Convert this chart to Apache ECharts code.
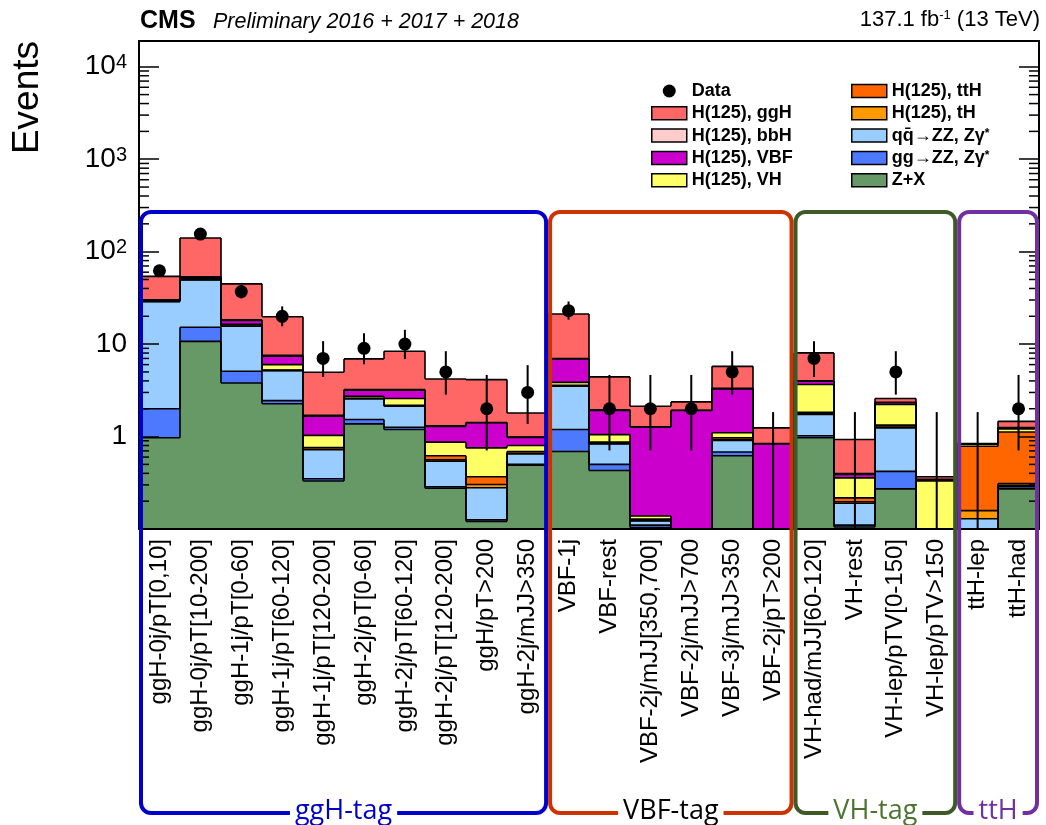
<!DOCTYPE html>
<html>
<head>
<meta charset="utf-8">
<script src="https://cdn.jsdelivr.net/npm/echarts@6/dist/echarts.min.js"></script>
<style>
html, body { margin: 0; padding: 0; background: #ffffff; }
#main { width: 1046px; height: 825px; }
</style>
</head>
<body>
<div id="main"></div>
<script>
// Event categories (one bin each)
const categories = [
  'ggH-0j/pT[0,10]', 'ggH-0j/pT[10-200]', 'ggH-1j/pT[0-60]', 'ggH-1j/pT[60-120]',
  'ggH-1j/pT[120-200]', 'ggH-2j/pT[0-60]', 'ggH-2j/pT[60-120]', 'ggH-2j/pT[120-200]',
  'ggH/pT>200', 'ggH-2j/mJJ>350',
  'VBF-1j', 'VBF-rest', 'VBF-2j/mJJ[350,700]', 'VBF-2j/mJJ>700', 'VBF-3j/mJJ>350', 'VBF-2j/pT>200',
  'VH-had/mJJ[60-120]', 'VH-rest', 'VH-lep/pTV[0-150]', 'VH-lep/pTV>150',
  'ttH-lep', 'ttH-had'
];

// Expected yields per category, one array per process (stacked bottom to top)
const zx   = [0.97, 10.7, 3.8, 2.26, 0.33, 1.37, 1.19, 0.276, 0.121, 0.49, 0.69, 0.43, 0.104, 0.05, 0.62, 0.03, 0.97, 0.105, 0.272, 0.01, 0.003, 0.272];
const ggzz = [1.03, 4.5, 1.28, 0.19, 0.02, 0.16, 0.07, 0.01, 0.005, 0.01, 0.5, 0.07, 0.006, 0.005, 0.06, 0.002, 0.05, 0.005, 0.148, 0.002, 0.002, 0.014];
const qqzz = [27, 34.6, 10.5, 2.72, 0.37, 1.03, 0.87, 0.254, 0.153, 0.15, 2.31, 0.33, 0.012, 0.02, 0.23, 0.02, 0.71, 0.08, 0.82, 0.01, 0.124, 0.01];
const th   = [0.005, 0.02, 0.02, 0.02, 0.01, 0.01, 0.01, 0.02, 0.024, 0.01, 0.02, 0.01, 0.002, 0.002, 0.02, 0.002, 0.03, 0.007, 0.03, 0.003, 0.029, 0.014];
const tth  = [0.01, 0.05, 0.08, 0.05, 0.03, 0.03, 0.04, 0.06, 0.064, 0.03, 0.06, 0.03, 0.004, 0.005, 0.04, 0.006, 0.07, 0.02, 0.06, 0.01, 0.627, 0.81];
const vh   = [0.35, 1.2, 0.7, 0.76, 0.27, 0.13, 0.4, 0.25, 0.388, 0.11, 0.28, 0.18, 0.01, 0.015, 0.13, 0.03, 1.82, 0.14, 0.89, 0.295, 0.04, 0.09];
const vbf  = [0.6, 1.5, 1.6, 1.4, 0.63, 0.44, 0.59, 0.42, 0.655, 0.18, 3.06, 0.87, 1.13, 1.82, 2.18, 0.74, 0.31, 0.031, 0.1, 0.01, 0.005, 0.03];
const bbh  = [0.25, 0.9, 0.35, 0.15, 0.04, 0.06, 0.05, 0.02, 0.01, 0.01, 0.08, 0.03, 0.005, 0.005, 0.04, 0.01, 0.04, 0.01, 0.03, 0.005, 0.002, 0.01];
const ggh  = [23.8, 87, 26.5, 12.25, 3.26, 3.69, 5.14, 2.89, 2.71, 0.81, 14.2, 2.47, 0.857, 0.45, 2.43, 0.40, 4.03, 0.532, 0.23, 0.022, 0.01, 0.21];

// Observed events and their 68% Poisson intervals
const observed = [62, 155, 37, 20, 7, 9, 10, 5, 2, 3, 23, 2, 2, 2, 5, 0, 7, 0, 5, 0, 0, 2];
const obsLow   = [54.3, 142.8, 31.2, 15.6, 4.42, 6.06, 6.89, 2.84, 0.708, 1.37, 18.4, 0.708, 0.708, 0.708, 2.84, 0, 4.42, 0, 2.84, 0, 0, 0.708];
const obsHigh  = [70.9, 168.0, 43.6, 25.6, 10.77, 13.11, 14.27, 8.38, 4.64, 5.92, 28.9, 4.64, 4.64, 4.64, 8.38, 1.84, 10.77, 1.84, 8.38, 1.84, 1.84, 4.64];

// Y axis range and labelled decades
const Y_MIN = 0.1;
const Y_MAX = 19000;
const decadeLabels = { 0: '1', 1: '10', 2: '10{sup|2}', 3: '10{sup|3}', 4: '10{sup|4}' };

// Category groups shown as brackets under the axis
const tagGroups = [
  { name: 'ggH-tag', first: 0,  last: 9,  line: '#0000cc', text: '#0000cc' },
  { name: 'VBF-tag', first: 10, last: 15, line: '#cc3300', text: '#000000' },
  { name: 'VH-tag',  first: 16, last: 19, line: '#3d5a27', text: '#4a7530' },
  { name: 'ttH',     first: 20, last: 21, line: '#7030a0', text: '#7030a0' }
];

const FONT = "'Liberation Sans', Arial, Helvetica, sans-serif";

const layers = [
  { name: 'Z+X',                      values: zx,   color: '#669966' },
  { name: 'gg\u2192ZZ, Z\u03b3*',     values: ggzz, color: '#4d79ff' },
  { name: 'qq\u0304\u2192ZZ, Z\u03b3*', values: qqzz, color: '#99ccff' },
  { name: 'H(125), tH',               values: th,   color: '#ff9900' },
  { name: 'H(125), ttH',              values: tth,  color: '#ff6600' },
  { name: 'H(125), VH',               values: vh,   color: '#ffff66' },
  { name: 'H(125), VBF',              values: vbf,  color: '#cc00cc' },
  { name: 'H(125), bbH',              values: bbh,  color: '#ffcccc' },
  { name: 'H(125), ggH',              values: ggh,  color: '#ff6666' }
];

// cumulative stack tops
const cum = [];
layers.forEach((l, k) => {
  cum.push(l.values.map((v, i) => v + (k > 0 ? cum[k - 1][i] : 0)));
});

const clampY = v => Math.max(v, Y_MIN);

function fillRenderer(color) {
  return function (params, api) {
    const i = api.value(0);
    const lo = api.value(1);
    const hi = api.value(2);
    if (hi <= Y_MIN) return null;
    const top = api.coord([i, hi]);
    const bot = api.coord([i, clampY(lo)]);
    const w = api.size([1, 0])[0];
    const x0 = Math.round(top[0] - w / 2);
    const x1 = Math.round(top[0] + w / 2);
    return {
      type: 'rect',
      shape: { x: x0, y: top[1], width: x1 - x0, height: bot[1] - top[1] },
      style: { fill: color, stroke: null }
    };
  };
}

const fillSeries = layers.map((l, k) => ({
  type: 'custom',
  name: l.name,
  coordinateSystem: 'cartesian2d',
  clip: true,
  z: 2,
  itemStyle: { color: l.color },
  encode: { x: 0, y: 2 },
  data: categories.map((c, i) => [i, k > 0 ? cum[k - 1][i] : 0, cum[k][i]]),
  renderItem: fillRenderer(l.color)
}));

// step outlines of every cumulative histogram
const outlineSeries = {
  type: 'custom',
  name: 'outline',
  coordinateSystem: 'cartesian2d',
  clip: true,
  z: 3,
  silent: true,
  encode: { x: 0, y: 1 },
  data: categories.map((c, i) => [i, cum[cum.length - 1][i]]),
  renderItem: function (params, api) {
    const i = api.value(0);
    const w = api.size([1, 0])[0];
    const children = [];
    const lineStyle = { stroke: '#000', lineWidth: 1.6 };
    const bottom = api.coord([i, Y_MIN])[1];
    for (let k = 0; k < layers.length; k++) {
      const v = cum[k][i];
      const p = api.coord([i, clampY(v)]);
      const x0 = Math.round(p[0] - w / 2);
      const x1 = Math.round(p[0] + w / 2);
      if (v > Y_MIN) {
        children.push({ type: 'line', shape: { x1: x0, y1: p[1], x2: x1, y2: p[1] }, style: lineStyle });
      }
      const prevY = i > 0 ? api.coord([i, clampY(cum[k][i - 1])])[1] : bottom;
      children.push({ type: 'line', shape: { x1: x0, y1: prevY, x2: x0, y2: p[1] }, style: lineStyle });
      if (i === categories.length - 1) {
        children.push({ type: 'line', shape: { x1: x1, y1: p[1], x2: x1, y2: bottom }, style: lineStyle });
      }
    }
    return { type: 'group', children: children };
  }
};

const errorSeries = {
  type: 'custom',
  name: 'Data errors',
  coordinateSystem: 'cartesian2d',
  clip: true,
  z: 4,
  silent: true,
  encode: { x: 0, y: 2 },
  data: categories.map((c, i) => [i, obsLow[i], obsHigh[i]]),
  renderItem: function (params, api) {
    const i = api.value(0);
    const lo = api.coord([i, clampY(api.value(1))]);
    const hi = api.coord([i, api.value(2)]);
    return {
      type: 'line',
      shape: { x1: lo[0], y1: lo[1], x2: hi[0], y2: hi[1] },
      style: { stroke: '#000', lineWidth: 2 }
    };
  }
};

const dataSeries = {
  type: 'scatter',
  name: 'Data',
  z: 5,
  symbol: 'circle',
  symbolSize: 13,
  itemStyle: { color: '#000', opacity: 1 },
  data: observed.map((v, i) => (v > 0 ? [i, v] : null)).filter(d => d !== null)
};

// minor log ticks (2..9 per decade) on both vertical edges
const minorTicks = [];
for (let e = -1; e <= 4; e++) {
  for (let m = 2; m <= 9; m++) {
    const v = m * Math.pow(10, e);
    if (v < Y_MAX) minorTicks.push(v);
  }
}
const minorTickSeries = {
  type: 'custom',
  name: 'minor ticks',
  coordinateSystem: 'cartesian2d',
  z: 20,
  silent: true,
  clip: false,
  encode: { x: 0, y: 1 },
  data: minorTicks.map(v => [0, v]),
  renderItem: function (params, api) {
    const cs = params.coordSys;
    const y = api.coord([0, api.value(1)])[1];
    const st = { stroke: '#000', lineWidth: 1.5 };
    return {
      type: 'group',
      children: [
        { type: 'line', shape: { x1: cs.x, y1: y, x2: cs.x + 10, y2: y }, style: st },
        { type: 'line', shape: { x1: cs.x + cs.width, y1: y, x2: cs.x + cs.width - 10, y2: y }, style: st }
      ]
    };
  }
};

const legendItem = name => {
  const l = layers.find(x => x.name === name);
  return { name: name, icon: 'rect', itemStyle: { color: l.color, borderColor: '#000', borderWidth: 1.5 } };
};
const legendText = {
  fontFamily: FONT, fontWeight: 'bold', fontSize: 18, color: '#000', lineHeight: 16,
  rich: { sup: { fontFamily: FONT, fontWeight: 'bold', fontSize: 12, verticalAlign: 'top', lineHeight: 10, color: '#000' } }
};
const legendFormatter = name => name.replace('*', '{sup|*}');

const chart = echarts.init(document.getElementById('main'), null, { renderer: 'canvas' });

const axisLineStyle = { color: '#000', width: 2 };

chart.setOption({
  animation: false,
  backgroundColor: '#fff',
  grid: { left: 139, top: 41, width: 900, height: 488, containLabel: false },
  legend: [
    {
      left: 646, top: 77, orient: 'vertical', itemWidth: 35, itemHeight: 13, itemGap: 4.3,
      selectedMode: false, textStyle: legendText, formatter: legendFormatter,
      data: [
        { name: 'Data', icon: 'circle', itemStyle: { color: '#000', opacity: 1 } },
        legendItem('H(125), ggH'), legendItem('H(125), bbH'), legendItem('H(125), VBF'), legendItem('H(125), VH')
      ]
    },
    {
      left: 846, top: 77, orient: 'vertical', itemWidth: 35, itemHeight: 13, itemGap: 4.3,
      selectedMode: false, textStyle: legendText, formatter: legendFormatter,
      data: [
        legendItem('H(125), ttH'), legendItem('H(125), tH'), legendItem('qq\u0304\u2192ZZ, Z\u03b3*'),
        legendItem('gg\u2192ZZ, Z\u03b3*'), legendItem('Z+X')
      ]
    }
  ],
  xAxis: [
    {
      type: 'category', data: categories, position: 'bottom', boundaryGap: true, z: 20,
      axisLine: { lineStyle: axisLineStyle },
      axisTick: { inside: true, length: 20, alignWithLabel: false, interval: 0, lineStyle: { color: '#000', width: 1.5 } },
      axisLabel: { rotate: 90, interval: 0, margin: 10, fontFamily: FONT, fontSize: 24, color: '#000' },
      splitLine: { show: false }
    },
    {
      type: 'category', data: categories, position: 'top', boundaryGap: true, z: 20,
      axisLine: { lineStyle: axisLineStyle },
      axisTick: { inside: true, length: 20, alignWithLabel: false, interval: 0, lineStyle: { color: '#000', width: 1.5 } },
      axisLabel: { show: false },
      splitLine: { show: false }
    }
  ],
  yAxis: [
    {
      type: 'log', logBase: 10, min: Y_MIN, max: Y_MAX, position: 'left', z: 20,
      axisLine: { show: true, lineStyle: axisLineStyle },
      axisTick: { show: true, inside: true, length: 20, lineStyle: { color: '#000', width: 1.5 } },
      splitLine: { show: false },
      axisLabel: {
        margin: 12, fontFamily: FONT, fontSize: 28, color: '#000',
        formatter: function (v) {
          const e = Math.round(Math.log10(v));
          if (Math.abs(v - Math.pow(10, e)) / v > 1e-6) return '';
          return decadeLabels[e] !== undefined ? decadeLabels[e] : '';
        },
        rich: { sup: { fontFamily: FONT, fontSize: 20, verticalAlign: 'top', lineHeight: 14, color: '#000' } }
      }
    },
    {
      type: 'log', logBase: 10, min: Y_MIN, max: Y_MAX, position: 'right', z: 20,
      axisLine: { show: true, lineStyle: axisLineStyle },
      axisTick: { show: true, inside: true, length: 20, lineStyle: { color: '#000', width: 1.5 } },
      splitLine: { show: false },
      axisLabel: { show: false }
    }
  ],
  series: fillSeries.concat([outlineSeries, errorSeries, dataSeries, minorTickSeries])
});

// header texts, axis title and category brackets
const bandW = 900 / categories.length;
const edgeX = idx => {
  const c = chart.convertToPixel({ xAxisIndex: 0 }, idx);
  return c - bandW / 2;
};
const BOX_TOP = 212, BOX_BOTTOM = 813, INSET = 2;
const graphics = [
  { type: 'text', left: 140, top: 9, z: 50, style: { text: 'CMS', font: "bold 25px " + FONT, fill: '#000' } },
  { type: 'text', left: 213, top: 11, z: 50, style: { text: 'Preliminary 2016 + 2017 + 2018', font: "italic 21.5px " + FONT, fill: '#000' } },
  {
    type: 'text', right: 6, top: 9, z: 50,
    style: {
      text: '137.1 fb{sup|-1} (13 TeV)', font: "22px " + FONT, fill: '#000',
      rich: { sup: { fontSize: 13, fontFamily: FONT, verticalAlign: 'top', lineHeight: 12 } }
    }
  },
  {
    type: 'text', x: 28, y: 41, rotation: Math.PI / 2, z: 50,
    style: { text: 'Events', font: "37px " + FONT, fill: '#000', align: 'right', verticalAlign: 'middle' }
  }
];
tagGroups.forEach(g => {
  const x0 = edgeX(g.first) + INSET;
  const x1 = edgeX(g.last + 1) - INSET;
  graphics.push({
    type: 'rect', z: 60, silent: true,
    shape: { x: x0, y: BOX_TOP, width: x1 - x0, height: BOX_BOTTOM - BOX_TOP, r: 10 },
    style: { fill: null, stroke: g.line, lineWidth: 4 }
  });
  graphics.push({
    type: 'text', z: 61, silent: true, x: (x0 + x1) / 2, y: BOX_BOTTOM - 2,
    style: {
      text: g.name, font: "27px 'Open Sans', 'Noto Sans', sans-serif", fill: g.text,
      align: 'center', verticalAlign: 'middle', backgroundColor: '#fff', padding: [0, 5, 0, 5]
    }
  });
});
chart.setOption({ graphic: graphics });
</script>
</body>
</html>
